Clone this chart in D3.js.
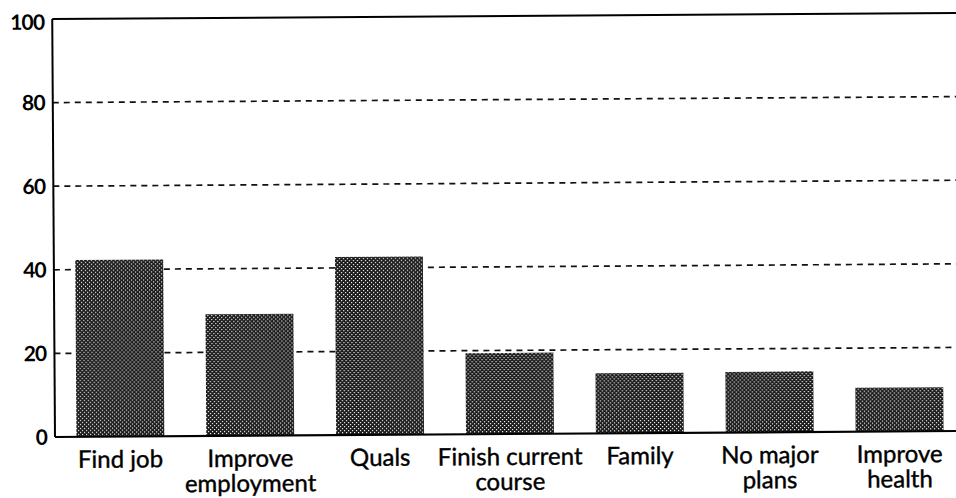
<!DOCTYPE html>
<html>
<head>
<meta charset="utf-8">
<script src="https://cdn.jsdelivr.net/npm/d3@7"></script>
<style>
  body { margin: 0; background: #fff; }
  svg { display: block; }
</style>
</head>
<body>
<svg id="chart" width="956" height="498"></svg>
<script>
// values
const categories = [
    ["Find job"],
    ["Improve", "employment"],
    ["Quals"],
    ["Finish current", "course"],
    ["Family"],
    ["No major", "plans"],
    ["Improve", "health"]
];
const values = [42.3, 29.1, 42.6, 19.4, 14.4, 14.5, 10.5];
const yTicks = [0, 20, 40, 60, 80, 100];

const svg = d3.select("#chart");
const W = 956;
const plotLeft = 55, plotBottom = 437, plotTop = 19;

// the scan is tilted slightly, so the whole plot is turned a little
const g = svg.append("g")
    .attr("transform", "rotate(-0.38," + plotLeft + "," + plotBottom + ")");

const defs = svg.append("defs");
const pat = defs.append("pattern")
    .attr("id", "dots")
    .attr("patternUnits", "userSpaceOnUse")
    .attr("width", 4)
    .attr("height", 4);
pat.append("rect").attr("width", 4).attr("height", 4).attr("fill", "#181818");
pat.append("rect").attr("x", 0).attr("y", 0).attr("width", 1.2).attr("height", 1.2).attr("fill", "#fff");
pat.append("rect").attr("x", 2).attr("y", 2).attr("width", 1.2).attr("height", 1.2).attr("fill", "#fff");

const x = d3.scaleBand()
    .domain(d3.range(categories.length))
    .range([plotLeft, plotLeft + 7 * 130])
    .paddingInner(0.323)
    .paddingOuter(0.165);

const y = d3.scaleLinear()
    .domain([0, 100])
    .range([plotBottom, plotTop]);

// dashed gridlines
g.append("g")
    .selectAll("line")
    .data(yTicks.filter(t => t > 0 && t < 100))
    .enter()
    .append("line")
    .attr("x1", plotLeft)
    .attr("x2", W + 10)
    .attr("y1", d => y(d))
    .attr("y2", d => y(d))
    .attr("stroke", "#111")
    .attr("stroke-width", 1.7)
    .attr("stroke-dasharray", "6,5");

// bars
g.append("g")
    .selectAll("rect")
    .data(values)
    .enter()
    .append("rect")
    .attr("x", (d, i) => x(i))
    .attr("width", x.bandwidth())
    .attr("y", d => y(d))
    .attr("height", d => y(0) - y(d))
    .attr("fill", "url(#dots)");

// frame: left axis, top line at 100, baseline
g.append("line")
    .attr("x1", plotLeft).attr("x2", plotLeft)
    .attr("y1", y(100)).attr("y2", y(0))
    .attr("stroke", "#000").attr("stroke-width", 2);
g.append("line")
    .attr("x1", plotLeft).attr("x2", W + 10)
    .attr("y1", y(100)).attr("y2", y(100))
    .attr("stroke", "#000").attr("stroke-width", 2);
g.append("line")
    .attr("x1", plotLeft).attr("x2", W + 10)
    .attr("y1", y(0)).attr("y2", y(0))
    .attr("stroke", "#000").attr("stroke-width", 2.2);

// y tick labels
g.append("g")
    .selectAll("text")
    .data(yTicks)
    .enter()
    .append("text")
    .attr("x", 47)
    .attr("y", d => y(d) + (d === 100 ? 3 : 0))
    .attr("dy", "0.36em")
    .attr("text-anchor", "end")
    .style("font-family", "Lato, 'Open Sans', sans-serif")
    .style("font-size", "21px")
    .style("font-weight", "bold")
    .style("letter-spacing", "-0.8px")
    .style("fill", "#000")
    .text(d => d);

// category labels
const lab = g.append("g")
    .selectAll("text")
    .data(categories)
    .enter()
    .append("text")
    .attr("x", (d, i) => x(i) + x.bandwidth() / 2)
    .attr("y", 468)
    .attr("text-anchor", "middle")
    .style("font-family", "Lato, 'Open Sans', sans-serif")
    .style("font-size", "24px")
    .style("fill", "#000")
    .style("stroke", "#000")
    .style("stroke-width", "0.4px");

lab.selectAll("tspan")
    .data(d => d)
    .enter()
    .append("tspan")
    .attr("x", function() { return d3.select(this.parentNode).attr("x"); })
    .attr("dy", (d, i) => i === 0 ? 0 : 25)
    .text(d => d);
</script>
</body>
</html>
